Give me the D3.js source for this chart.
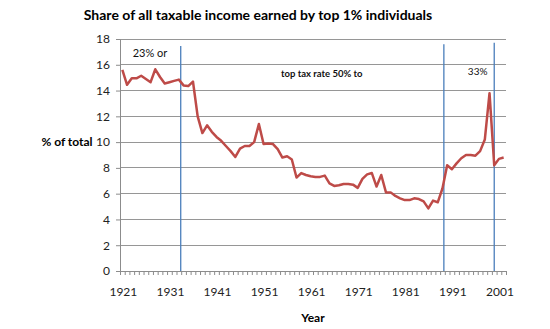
<!DOCTYPE html>
<html><head><meta charset="utf-8">
<script src="https://cdn.jsdelivr.net/npm/d3@7"></script>
<style>
html,body{margin:0;padding:0;background:#fff;}
svg{display:block;font-family:Lato,"Open Sans",sans-serif;}
</style></head>
<body><svg id="c" width="550" height="329"></svg>
<script>
const years = d3.range(1921, 2003);
const shares = [
 15.6,14.45,14.95,14.95,15.15,14.9,14.65,15.65,15.05,14.55,
 14.65,14.75,14.85,14.4,14.35,14.7,12.0,10.7,11.3,10.8,
 10.4,10.1,9.7,9.3,8.85,9.5,9.7,9.7,10.0,11.4,
 9.85,9.9,9.85,9.45,8.8,8.9,8.65,7.25,7.6,7.45,
 7.35,7.3,7.3,7.4,6.8,6.6,6.65,6.75,6.75,6.7,
 6.45,7.15,7.5,7.6,6.55,7.45,6.1,6.1,5.82,5.64,
 5.5,5.5,5.64,5.58,5.4,4.86,5.46,5.33,6.4,8.2,
 7.9,8.35,8.75,9.0,9.0,8.95,9.3,10.2,13.8,8.2,
 8.7,8.8];
const yTicks = [0,2,4,6,8,10,12,14,16,18];
const xTickYears = [1921,1931,1941,1951,1961,1971,1981,1991,2001];
const markerYears = [1933.4, 1989.3, 2000];
const markerTops = [17.45, 17.6, 17.7];
const notes = [
  {text:"23% or", year:1923.2, value:16.6, anchor:"start", weight:"normal", size:11},
  {text:"top tax rate 50% to", year:1954.7, value:15.05, anchor:"start", weight:"bold", size:9.5},
  {text:"33%", year:1994.4, value:15.2, anchor:"start", weight:"normal", size:10}
];
const title = "Share of all taxable income earned by top 1% individuals";

const svg = d3.select("#c");
const x = d3.scaleLinear().domain([1920.5, 2002.5]).range([120, 506]);
const y = d3.scaleLinear().domain([0, 18]).range([271, 39]);

// gridlines
svg.append("g").selectAll("line").data(yTicks.filter(d=>d>0)).join("line")
  .attr("x1", 120).attr("x2", 506)
  .attr("y1", d=>y(d)).attr("y2", d=>y(d))
  .attr("stroke", "#969696").attr("stroke-width", 1).attr("shape-rendering","crispEdges");

// y axis
const ya = svg.append("g").attr("transform","translate(120,0)")
  .call(d3.axisLeft(y).tickValues(yTicks).tickSize(4).tickPadding(6));
ya.select(".domain").attr("stroke","#8c8c8c");
ya.selectAll(".tick line").attr("stroke","#8c8c8c");
ya.selectAll("text").attr("font-size",12).attr("fill","#222").attr("font-family","Lato,sans-serif");

// x axis with minor ticks at category boundaries
const bounds = d3.range(1920.5, 2003, 1);
const xa = svg.append("g").attr("transform","translate(0,"+y(0)+")")
  .call(d3.axisBottom(x).tickValues(bounds).tickSize(4).tickFormat(""));
xa.select(".domain").attr("stroke","#8c8c8c");
xa.selectAll(".tick line").attr("stroke","#8c8c8c");
svg.append("g").selectAll("text").data(xTickYears).join("text")
  .attr("x", d=>x(d)+1).attr("y", y(0)+25)
  .attr("text-anchor","middle").attr("font-size",12).attr("fill","#222")
  .text(d=>d);

// marker lines
svg.append("g").selectAll("line").data(markerYears).join("line")
  .attr("x1", d=>x(d)).attr("x2", d=>x(d))
  .attr("y1", (d,i)=>y(markerTops[i])).attr("y2", y(0))
  .attr("stroke","#4a7ebb").attr("stroke-width",1.3);

// data line
const line = d3.line().x((d,i)=>x(years[i])).y(d=>y(d));
svg.append("path").datum(shares)
  .attr("d", line).attr("fill","none")
  .attr("stroke","#be4b48").attr("stroke-width",2.5).attr("stroke-linejoin","round");

// notes
svg.append("g").selectAll("text").data(notes).join("text")
  .attr("x", d=>x(d.year)).attr("y", d=>y(d.value))
  .attr("text-anchor", d=>d.anchor).attr("font-size", d=>d.size)
  .attr("font-weight", d=>d.weight).attr("fill","#111").text(d=>d.text);

// title and axis titles
svg.append("text").attr("x", 258).attr("y", 20).attr("text-anchor","middle")
  .attr("font-size",14).attr("font-weight","bold").attr("fill","#000").text(title);
svg.append("text").attr("x", 67).attr("y", 146).attr("text-anchor","middle")
  .attr("font-size",12).attr("font-weight","bold").attr("fill","#000").text("% of total");
svg.append("text").attr("x", 313).attr("y", 322).attr("text-anchor","middle")
  .attr("font-size",12).attr("font-weight","bold").attr("fill","#000").text("Year");
</script></body></html>
